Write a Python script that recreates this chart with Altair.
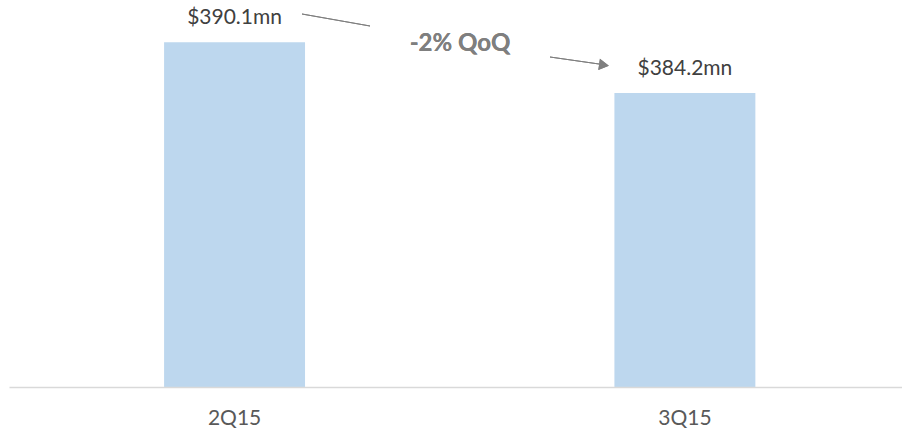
import altair as alt
import pandas as pd

quarters = ["2Q15", "3Q15"]
revenue = [390.1, 384.2]
labels = ["$390.1mn", "$384.2mn"]
change_label = "-2% QoQ"
axis_floor = 350

df = pd.DataFrame({"quarter": quarters, "revenue": revenue, "label": labels})

FONT = "Lato"
x_enc = alt.X("quarter:N", sort=quarters,
              scale=alt.Scale(paddingInner=0.687, paddingOuter=0.335, align=0.514),
              axis=alt.Axis(title=None, ticks=False, domainColor="#d9d9d9", domainWidth=1.5,
                            labelAngle=0, labelFont=FONT, labelFontSize=21, labelColor="#595959",
                            labelPadding=20, zindex=1))
y_enc = alt.Y("revenue:Q", scale=alt.Scale(domain=[axis_floor, 395], zero=False, nice=False),
              axis=None)

base = alt.Chart(df)
bars = base.mark_bar(color="#bdd7ee").encode(x=x_enc, y=y_enc, y2=alt.datum(axis_floor))
vals = base.mark_text(font=FONT, fontSize=21, color="#404040", baseline="middle", dy=-24).encode(
    x=x_enc, y=y_enc, text="label:N")

line1 = alt.Chart(df).mark_rule(color="#7f7f7f", strokeWidth=1).encode(
    x=alt.value(293), x2=alt.value(361), y=alt.value(14), y2=alt.value(26))
line2 = alt.Chart(df).mark_rule(color="#7f7f7f", strokeWidth=1).encode(
    x=alt.value(541), x2=alt.value(590), y=alt.value(57), y2=alt.value(64))
head = alt.Chart(df).mark_point(shape="triangle-right", filled=True, color="#7f7f7f",
                                size=130, angle=8, opacity=1).encode(
    x=alt.value(595), y=alt.value(65))
qoq = alt.Chart(df).mark_text(font=FONT, fontSize=24, fontWeight="bold", color="#7f7f7f",
                              baseline="middle").encode(
    x=alt.value(451), y=alt.value(44), text=alt.value(change_label))

chart = alt.layer(bars, vals, line1, line2, head, qoq).properties(
    width=893, height=387,
    padding={"left": 9, "top": 0, "right": 0, "bottom": 46},
    autosize=alt.AutoSizeParams(type="none"),
).configure_view(stroke=None)

chart.save("out.html", embed_options={"renderer": "svg", "actions": False})
